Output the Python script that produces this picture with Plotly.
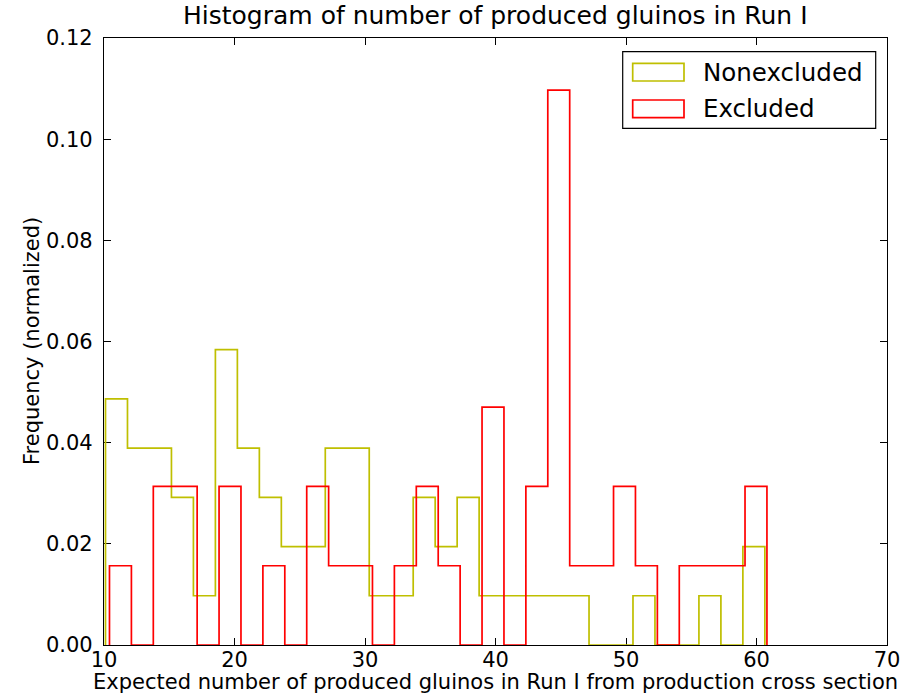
import numpy as np
import plotly.graph_objects as go

# ---- data (30 equal-width bins per series, counts) ----
nonexcluded_range = [10.115, 60.64]
nonexcluded_counts = [5, 4, 4, 3, 1, 6, 4, 3, 2, 2, 4, 4, 1, 1, 3, 2, 3,
                      1, 1, 1, 1, 1, 0, 0, 1, 0, 0, 1, 0, 2]
excluded_range = [10.42, 60.80]
excluded_counts = [1, 0, 2, 2, 0, 2, 0, 1, 0, 2, 1, 1, 0, 1, 2, 1, 0, 3,
                   0, 2, 7, 1, 1, 2, 1, 0, 1, 1, 1, 2]

series_names = ["Nonexcluded", "Excluded"]
series_colors = ["#bfbf00", "#ff0000"]
x_ticks = [10, 20, 30, 40, 50, 60, 70]
y_ticks = [0.00, 0.02, 0.04, 0.06, 0.08, 0.10, 0.12]

title_text = "Histogram of number of produced gluinos in Run I"
xlabel_text = "Expected number of produced gluinos in Run I from production cross section"
ylabel_text = "Frequency (normalized)"


def step_outline(rng, counts):
    counts = np.asarray(counts, dtype=float)
    edges = np.linspace(rng[0], rng[1], len(counts) + 1)
    width = edges[1] - edges[0]
    dens = counts / (counts.sum() * width)
    xs, ys = [edges[0]], [0.0]
    for i, h in enumerate(dens):
        xs += [edges[i], edges[i + 1]]
        ys += [h, h]
    xs.append(edges[-1])
    ys.append(0.0)
    return xs, ys


FONT = "DejaVu Sans"
W, H = 915, 695
ML, MR, MT, MB = 104, 28, 38, 50
PW, PH = W - ML - MR, H - MT - MB


def px(xp):
    return (xp - ML) / PW


def py(yp):
    return (H - MB - yp) / PH


fig = go.Figure()
for rng, counts, name, color in [
    (nonexcluded_range, nonexcluded_counts, series_names[0], series_colors[0]),
    (excluded_range, excluded_counts, series_names[1], series_colors[1]),
]:
    xs, ys = step_outline(rng, counts)
    fig.add_trace(go.Scatter(x=xs, y=ys, mode="lines", name=name,
                             line=dict(color=color, width=1.7),
                             showlegend=False, hoverinfo="skip"))

axis_common = dict(showgrid=False, zeroline=False, showline=True, linecolor="black",
                   linewidth=1.3, mirror="ticks", ticks="inside", ticklen=7,
                   tickwidth=1, tickcolor="black",
                   tickfont=dict(family=FONT, size=21, color="black"),
                   layer="below traces")

fig.update_layout(
    width=W, height=H,
    margin=dict(l=ML, r=MR, t=MT, b=MB, pad=0),
    paper_bgcolor="white", plot_bgcolor="white",
    showlegend=False,
    xaxis=dict(range=[10, 70], tickvals=x_ticks, ticktext=[str(v) for v in x_ticks],
               ticklabelstandoff=-4, **axis_common),
    yaxis=dict(range=[0, 0.12], tickvals=y_ticks, ticktext=[f"{v:.2f}" for v in y_ticks],
               ticklabelstandoff=6, **axis_common),
)

annotations = [
    dict(text=title_text, x=0.5, y=py(16), xref="paper", yref="paper",
         xanchor="center", yanchor="middle", showarrow=False,
         font=dict(family=FONT, size=25, color="black")),
    dict(text=xlabel_text, x=0.5, y=py(681.5), xref="paper", yref="paper",
         xanchor="center", yanchor="middle", showarrow=False,
         font=dict(family=FONT, size=21, color="black")),
    dict(text=ylabel_text, x=px(32), y=py(341), xref="paper", yref="paper",
         xanchor="center", yanchor="middle", showarrow=False, textangle=-90,
         font=dict(family=FONT, size=21, color="black")),
]

# legend (matplotlib-style box with outlined rectangle swatches)
shapes = [
    dict(type="rect", xref="paper", yref="paper", x0=px(622.7), x1=px(875.7),
         y0=py(128.3), y1=py(51.7), line=dict(color="black", width=1.2),
         fillcolor="white", layer="above"),
]
legend_rows = [(63.3, 81.0), (100.0, 117.7)]
for (top, bot), name, color in zip(legend_rows, series_names, series_colors):
    shapes.append(dict(type="rect", xref="paper", yref="paper", x0=px(632.7), x1=px(684),
                       y0=py(bot), y1=py(top), line=dict(color=color, width=1.7),
                       fillcolor="rgba(0,0,0,0)", layer="above"))
    annotations.append(dict(text=name, x=px(701), y=py((top + bot) / 2), xref="paper",
                            yref="paper", xanchor="left", yanchor="middle",
                            showarrow=False,
                            font=dict(family=FONT, size=24.5, color="black")))

fig.update_layout(shapes=shapes, annotations=annotations)
fig.write_html("out.html")
